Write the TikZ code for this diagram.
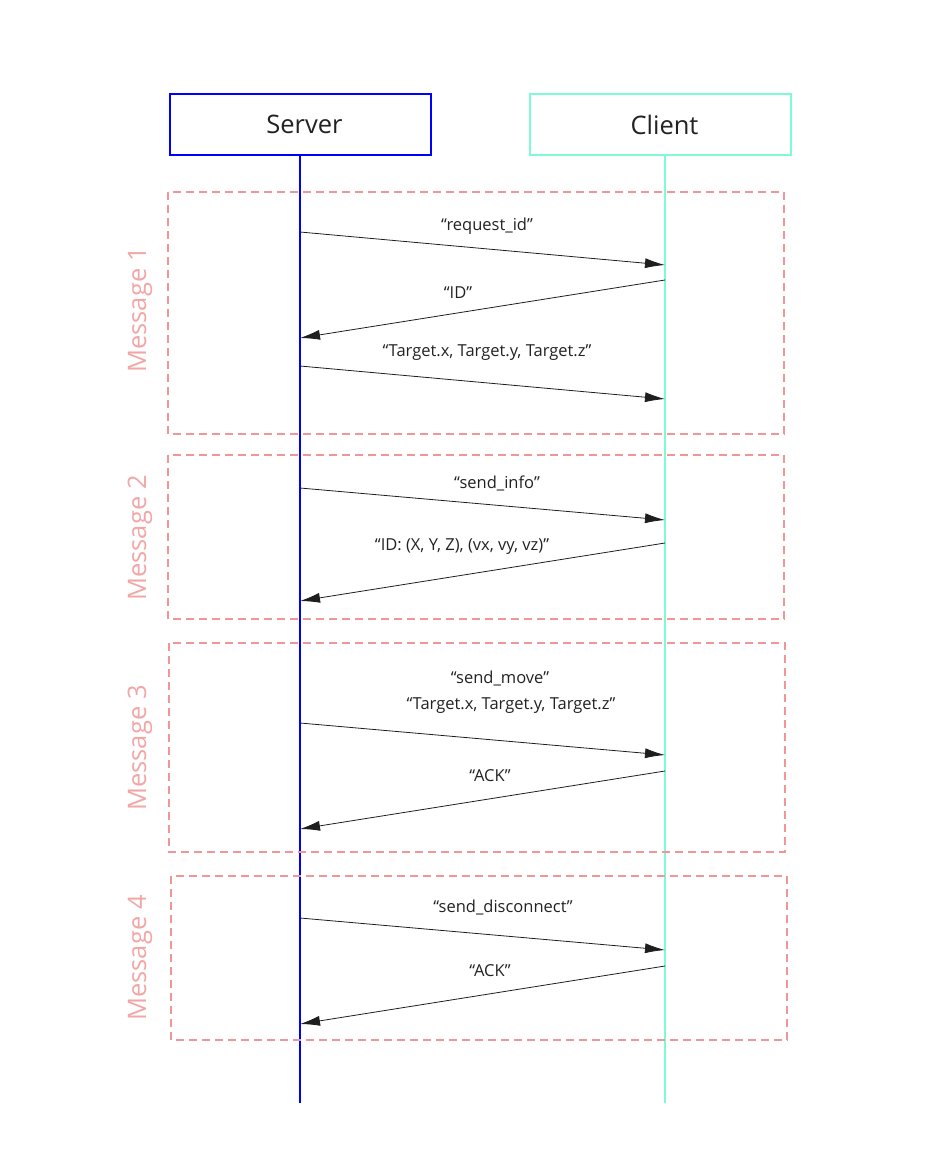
\documentclass[tikz,border=0pt]{standalone}
\usepackage{fontspec}
\setmainfont{Open Sans}
\usetikzlibrary{arrows.meta}
\definecolor{srv}{RGB}{0,0,255}
\definecolor{cli}{RGB}{127,250,212}
\definecolor{frm}{RGB}{240,150,150}
\definecolor{txt}{RGB}{34,34,34}
\definecolor{ahd}{RGB}{30,30,30}
\tikzset{
  actor/.style={draw, line width=1.6pt, minimum width=261pt, minimum height=61pt, inner sep=0pt, font=\fontsize{25.5}{30}\selectfont, text=txt},
  frame/.style={draw=frm, dashed, dash pattern=on 8pt off 5pt, line width=1.3pt},
  fraLabel/.style={rotate=90, text=frm!85, font=\fontsize{25.5}{30}\selectfont},
  msg/.style={draw=black, line width=0.8pt, -{Latex[length=20pt,width=10pt]}, ahd},
  lbl/.style={text=txt, font=\fontsize{16.5}{19}\selectfont},
  life/.style={line width=1.6pt}
}
\begin{document}
\begin{tikzpicture}[x=1pt,y=-1pt]
\useasboundingbox (0,0) rectangle (926,1158);
% actors
\node[actor, draw=srv] (server) at (300.5,124.5) {\hspace{8pt}Server};
\node[actor, draw=cli] (client) at (660.5,124.5) {\hspace{8pt}Client};
\coordinate (sEnd) at (300,1103);
\coordinate (cEnd) at (665,1103);
\coordinate (sTop) at (300,155);
\coordinate (cTop) at (665,155);
\draw[life, srv] (sTop) -- (sEnd);
\draw[life, cli] (cTop) -- (cEnd);
% frames
\draw[frame] (168,192) rectangle (784,434);
\draw[frame] (168,455) rectangle (784,619);
\draw[frame] (169,643) rectangle (785,852);
\draw[frame] (171,876) rectangle (787,1040);
\node[fraLabel] (m1) at (140,310) {Message 1};
\node[fraLabel] (m2) at (140,538) {Message 2};
\node[fraLabel] (m3) at (140,748) {Message 3};
\node[fraLabel] (m4) at (140,958) {Message 4};
% message endpoints
\coordinate (a1) at (300,232); \coordinate (b1) at (665,265);
\coordinate (a2) at (665,280); \coordinate (b2) at (300,338);
\coordinate (a3) at (300,366); \coordinate (b3) at (665,399);
\coordinate (a4) at (300,488); \coordinate (b4) at (665,520);
\coordinate (a5) at (665,543); \coordinate (b5) at (300,601);
\coordinate (a6) at (300,723); \coordinate (b6) at (665,755);
\coordinate (a7) at (665,771); \coordinate (b7) at (300,829);
\coordinate (a8) at (300,918); \coordinate (b8) at (665,950);
\coordinate (a9) at (665,966); \coordinate (b9) at (300,1024);
\draw[msg] (a1) -- (b1);
\draw[msg] (a2) -- (b2);
\draw[msg] (a3) -- (b3);
\draw[msg] (a4) -- (b4);
\draw[msg] (a5) -- (b5);
\draw[msg] (a6) -- (b6);
\draw[msg] (a7) -- (b7);
\draw[msg] (a8) -- (b8);
\draw[msg] (a9) -- (b9);
% labels
\node[lbl] (l1) at (487,226) {“request\_id”};
\node[lbl] (l2) at (458,293) {“ID”};
\node[lbl] (l3) at (487,353) {“Target.x, Target.y, Target.z”};
\node[lbl] (l4) at (497,483) {“send\_info”};
\node[lbl] (l5) at (462,547) {“ID: (X, Y, Z), (vx, vy, vz)”};
\node[lbl] (l6a) at (500,678) {“send\_move”};
\node[lbl] (l6b) at (511,706) {“Target.x, Target.y, Target.z”};
\node[lbl] (l7) at (490,776) {“ACK”};
\node[lbl] (l8) at (503,907) {“send\_disconnect”};
\node[lbl] (l9) at (490,971) {“ACK”};
\end{tikzpicture}
\end{document}
